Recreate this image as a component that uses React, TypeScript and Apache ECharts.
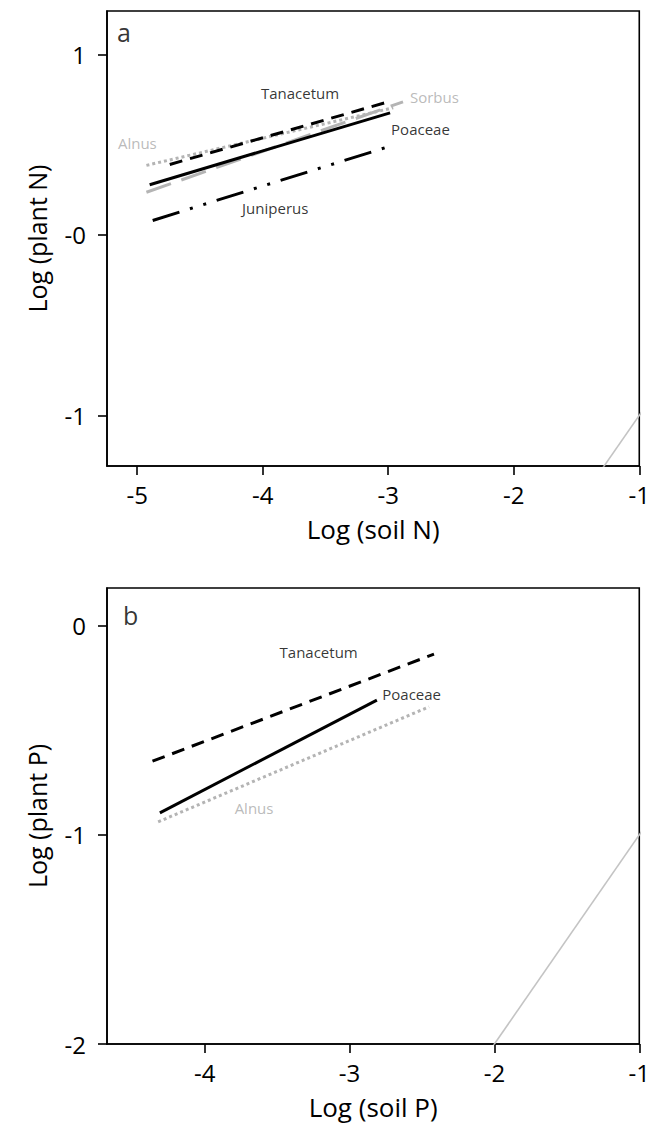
import React, { useEffect, useRef } from "react";
import * as echarts from "echarts";

const FONT = "'Open Sans', 'DejaVu Sans', sans-serif";
const GRAY_LINE = "#b4b4b4";
const GRAY_TEXT = "#a9a9a9";

// ---------- Panel a: Log (soil N) vs Log (plant N) ----------
const aXRange = [-5.24, -1];
const aYRange = [-1.28, 1.24];
const aXTicks = [-5, -4, -3, -2, -1];
const aYTicks = [-1, 0, 1];
const aTanacetum = [[-4.74, 0.39], [-3.0, 0.737]];
const aPoaceae = [[-4.9, 0.278], [-2.985, 0.676]];
const aSorbus = [[-4.926, 0.236], [-2.882, 0.737]];
const aAlnus = [[-4.926, 0.385], [-2.96, 0.704]];
const aJuniperus = [[-4.876, 0.08], [-3.0, 0.488]];
const aLabelNames = ["Tanacetum", "Alnus", "Sorbus", "Poaceae", "Juniperus"];
const aLabelX = [-4.014, -5.153, -2.827, -2.977, -4.164];
const aLabelY = [0.787, 0.51, 0.765, 0.588, 0.151];
const aLabelGray = [false, true, true, false, false];
const aPanelLetter = { name: "a", x: -5.161, y: 1.124 };

// ---------- Panel b: Log (soil P) vs Log (plant P) ----------
const bXRange = [-4.674, -1];
const bYRange = [-2, 0.18];
const bXTicks = [-4, -3, -2, -1];
const bYTicks = [-2, -1, 0];
const bTanacetum = [[-4.36, -0.648], [-2.417, -0.136]];
const bPoaceae = [[-4.309, -0.895], [-2.811, -0.356]];
const bAlnus = [[-4.321, -0.938], [-2.451, -0.388]];
const bLabelNames = ["Tanacetum", "Poaceae", "Alnus"];
const bLabelX = [-3.483, -2.774, -3.793];
const bLabelY = [-0.126, -0.327, -0.873];
const bLabelGray = [false, false, true];
const bPanelLetter = { name: "b", x: -4.564, y: 0.051 };

// 1:1 reference line
const oneToOne = [[-6, -6], [0, 0]];

function axisX(gridIndex: number, range: number[], ticks: number[], name: string) {
  return {
    type: "value",
    gridIndex,
    min: range[0],
    max: range[1],
    name,
    nameLocation: "middle",
    nameGap: 50,
    nameTextStyle: { fontFamily: FONT, fontSize: 26, color: "#000" },
    axisLine: { show: true, onZero: false, lineStyle: { color: "#000", width: 1.6 } },
    axisTick: { show: true, customValues: ticks, length: 9, lineStyle: { color: "#000", width: 1.6 } },
    axisLabel: { customValues: ticks, fontFamily: FONT, fontSize: 24, color: "#000", margin: 16 },
    splitLine: { show: false },
  };
}

function axisY(gridIndex: number, range: number[], ticks: number[], name: string, fmt: (v: number) => string) {
  return {
    type: "value",
    gridIndex,
    min: range[0],
    max: range[1],
    name,
    nameLocation: "middle",
    nameGap: 58,
    nameRotate: 90,
    nameTextStyle: { fontFamily: FONT, fontSize: 25, color: "#000" },
    axisLine: { show: true, onZero: false, lineStyle: { color: "#000", width: 1.6 } },
    axisTick: { show: true, customValues: ticks, length: 9, lineStyle: { color: "#000", width: 1.6 } },
    axisLabel: { customValues: ticks, fontFamily: FONT, fontSize: 24, color: "#000", margin: 21, formatter: fmt },
    splitLine: { show: false },
  };
}

function lineSeries(idx: number, data: number[][], color: string, type: any, width = 3) {
  return {
    type: "line",
    xAxisIndex: idx,
    yAxisIndex: idx,
    data,
    symbol: "none",
    silent: true,
    clip: true,
    lineStyle: { color, width, type, cap: "butt" },
  };
}

function labelSeries(idx: number, names: string[], xs: number[], ys: number[], gray: boolean[]) {
  return {
    type: "scatter",
    xAxisIndex: idx,
    yAxisIndex: idx,
    symbolSize: 0,
    silent: true,
    data: names.map((n, i) => ({
      name: n,
      value: [xs[i], ys[i]],
      label: { color: gray[i] ? GRAY_TEXT : "#000" },
    })),
    label: {
      show: true,
      formatter: "{b}",
      position: "right",
      distance: 0,
      fontFamily: FONT,
      fontSize: 15,
    },
  };
}

function letterSeries(idx: number, letter: { name: string; x: number; y: number }) {
  return {
    type: "scatter",
    xAxisIndex: idx,
    yAxisIndex: idx,
    symbolSize: 0,
    silent: true,
    data: [{ name: letter.name, value: [letter.x, letter.y] }],
    label: {
      show: true,
      formatter: "{b}",
      position: "right",
      distance: 0,
      fontFamily: FONT,
      fontSize: 25,
      color: "#000",
    },
  };
}

export default function App() {
  const ref = useRef<HTMLDivElement>(null);
  useEffect(() => {
    if (!ref.current) return;
    const chart = echarts.init(ref.current, null, { renderer: "svg" });
    const fmtA = (v: number) => (v === 0 ? "-0" : String(v));
    const fmtB = (v: number) => String(v);
    chart.setOption({
      animation: false,
      backgroundColor: "#fff",
      grid: [
        { left: 107, top: 11, width: 534, height: 455, show: true, borderColor: "#000", borderWidth: 1.6, backgroundColor: "transparent" },
        { left: 107, top: 588, width: 534, height: 456, show: true, borderColor: "#000", borderWidth: 1.6, backgroundColor: "transparent" },
      ],
      xAxis: [axisX(0, aXRange, aXTicks, "Log (soil N)"), axisX(1, bXRange, bXTicks, "Log (soil P)")],
      yAxis: [axisY(0, aYRange, aYTicks, "Log (plant N)", fmtA), axisY(1, bYRange, bYTicks, "Log (plant P)", fmtB)],
      series: [
        lineSeries(0, oneToOne, "#c4c4c4", "solid", 1.6),
        lineSeries(0, aSorbus, GRAY_LINE, [26, 11]),
        lineSeries(0, aAlnus, GRAY_LINE, [3, 3]),
        lineSeries(0, aPoaceae, "#000", "solid"),
        lineSeries(0, aTanacetum, "#000", [13, 8]),
        lineSeries(0, aJuniperus, "#000", [28, 11, 3, 11, 3, 11]),
        labelSeries(0, aLabelNames, aLabelX, aLabelY, aLabelGray),
        letterSeries(0, aPanelLetter),
        lineSeries(1, oneToOne, "#c4c4c4", "solid", 1.6),
        lineSeries(1, bAlnus, GRAY_LINE, [3, 3]),
        lineSeries(1, bPoaceae, "#000", "solid"),
        lineSeries(1, bTanacetum, "#000", [13, 8]),
        labelSeries(1, bLabelNames, bLabelX, bLabelY, bLabelGray),
        letterSeries(1, bPanelLetter),
      ],
    });
    return () => chart.dispose();
  }, []);
  return (
    <div
      ref={ref}
      style={{ position: "absolute", left: 0, top: 0, width: 653, height: 1132, background: "#fff" }}
    />
  );
}
